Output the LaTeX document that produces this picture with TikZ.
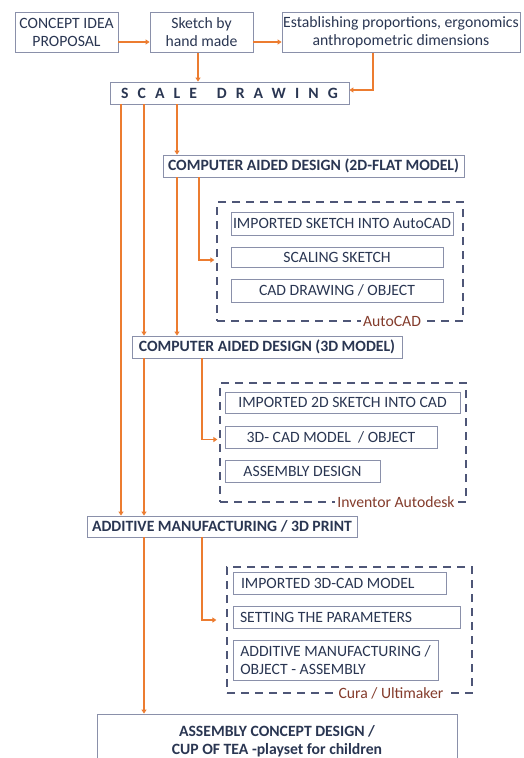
\documentclass[tikz,border=0pt]{standalone}
\usepackage{fontspec}
\setmainfont{Carlito}
\usetikzlibrary{arrows.meta,positioning}

\definecolor{boxline}{HTML}{8A90AA}
\definecolor{ink}{HTML}{2A3652}
\definecolor{flowc}{HTML}{EC7C30}
\definecolor{dashc}{HTML}{4E5677}
\definecolor{toolc}{HTML}{843C2C}

\begin{document}
\begin{tikzpicture}[x=1pt,y=-1pt]
\tikzstyle{stage} = [draw=boxline,line width=0.9pt,text=ink,inner sep=0pt,align=flush center,font=\fontsize{15.7}{18}\selectfont]
\tikzstyle{bstage} = [stage,font=\bfseries\fontsize{15.7}{18}\selectfont]
\tikzstyle{lstage} = [stage,align=flush left]
\tikzstyle{flow} = [draw=flowc,line width=1.3pt,-{Triangle[width=5pt,length=4pt]}]
\tikzstyle{group} = [draw=dashc,line width=1.2pt,dash pattern=on 8pt off 6pt,inner sep=0pt]
\tikzstyle{tool} = [fill=white,text=toolc,inner sep=2pt,font=\fontsize{15.7}{18}\selectfont]

\useasboundingbox (0,0) rectangle (523,758);

% lanes for the long connectors
\coordinate (laneA) at (121,0);
\coordinate (laneB) at (144,0);
\coordinate (laneC) at (177,0);
\coordinate (laneD) at (199,0);

% top row
\node[stage,minimum width=103pt,minimum height=40pt] (concept) at (66.5,32.5) {CONCEPT IDEA\\PROPOSAL};
\node[stage,minimum width=103pt,minimum height=40pt] (sketch) at (201.5,32.5) {Sketch by\\hand made};
\node[stage,minimum width=238pt,minimum height=40pt] (estab) at (401,32.5) {Establishing proportions, ergonomics\\anthropometric dimensions};

\node[bstage,minimum width=239pt,minimum height=22pt] (scale) at (229.5,93)
  {\addfontfeatures{LetterSpace=58}SCALE\hspace{7pt} DRAWING};

% 2D model
\node[bstage,minimum width=301pt,minimum height=22pt] (cad2) at (313.5,166) {COMPUTER AIDED DESIGN (2D-FLAT MODEL)};
\node[group,minimum width=246pt,minimum height=119pt] (autocad) at (340,261.5) {};
\node[stage,minimum width=222pt,minimum height=23pt] (imp1) at (342,223.5) {IMPORTED SKETCH INTO AutoCAD};
\node[stage,minimum width=212pt,minimum height=20pt] (scl) at (337,257) {SCALING SKETCH};
\node[stage,minimum width=212pt,minimum height=23pt] (cadobj) at (337,290.5) {CAD DRAWING / OBJECT};
\node[tool] (autocadlbl) at (392,321) {AutoCAD};

% 3D model
\node[bstage,minimum width=270pt,minimum height=22pt] (cad3) at (267,347) {COMPUTER AIDED DESIGN (3D MODEL)};
\node[group,minimum width=246pt,minimum height=119pt] (inventor) at (343,442.5) {};
\node[stage,minimum width=235pt,minimum height=21pt] (imp2) at (342.5,402.5) {IMPORTED 2D SKETCH INTO CAD};
\node[stage,minimum width=212pt,minimum height=22pt] (model3d) at (331,437) {3D- CAD MODEL \ / OBJECT};
\node[stage,minimum width=155pt,minimum height=22pt] (asmd) at (302.5,471) {ASSEMBLY DESIGN};
\node[tool] (inventorlbl) at (396,502) {Inventor Autodesk};

% 3D print
\node[bstage,minimum width=270pt,minimum height=21pt] (print) at (222,526.5) {ADDITIVE MANUFACTURING / 3D PRINT};
\node[group,minimum width=245pt,minimum height=126pt] (cura) at (349.5,630) {};
\node[lstage,minimum width=213pt,minimum height=22pt,text width=197pt] (imp3) at (339.5,583) {IMPORTED 3D-CAD MODEL};
\node[lstage,minimum width=227pt,minimum height=22pt,text width=213pt] (params) at (346.5,617) {SETTING THE PARAMETERS};
\node[lstage,minimum width=205pt,minimum height=40pt] (amobj) at (335.5,660) {ADDITIVE MANUFACTURING /\\OBJECT - ASSEMBLY};
\node[tool] (curalbl) at (391,693) {Cura / Ultimaker};

% result
\node[bstage,minimum width=360pt,minimum height=54pt] (result) at (277,741) {ASSEMBLY CONCEPT DESIGN /\\CUP OF TEA -playset for children};

% connectors
\draw[flow] ([yshift=-9.5pt]concept.east) -- ([yshift=-9.5pt]sketch.west);
\draw[flow] ([yshift=-9.5pt]sketch.east) -- ([yshift=-9.5pt]estab.west);
\draw[flow] ([xshift=-3.5pt]sketch.south) -- ([xshift=-3.5pt]sketch.south |- scale.north);
\draw[flow] ([xshift=-28pt]estab.south) |- ([yshift=3pt]scale.east);

\draw[flow] (scale.south -| laneC) -- (cad2.north -| laneC);
\draw[flow] (scale.south -| laneB) -- (cad3.north -| laneB);
\draw[flow] (scale.south -| laneA) -- (print.north -| laneA);

\draw[flow] (cad2.south -| laneC) -- (cad3.north -| laneC);
\draw[flow] (cad2.south -| laneD) |- ([yshift=-3pt,xshift=-2pt]scl.west -| autocad.west);

\draw[flow] (cad3.south -| laneB) -- (print.north -| laneB);
\draw[flow] ([xshift=3pt]cad3.south -| laneD) |- ([yshift=-2.5pt,xshift=-2pt]model3d.west -| inventor.west);

\draw[flow] (print.south -| laneB) -- (result.north -| laneB);
\draw[flow] ([xshift=3pt]print.south -| laneD) |- ([yshift=-3pt,xshift=-10pt]params.west -| cura.west);
\end{tikzpicture}
\end{document}
